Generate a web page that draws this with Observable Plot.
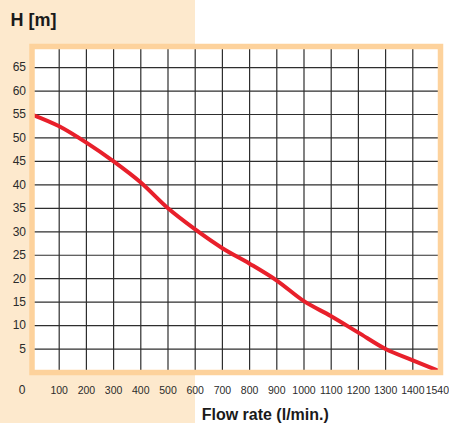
<!DOCTYPE html>
<html><head><meta charset="utf-8">
<script src="https://cdn.jsdelivr.net/npm/d3@7"></script>
<script src="https://cdn.jsdelivr.net/npm/@observablehq/plot@0.6"></script>
<style>
html,body{margin:0;padding:0;}
body{width:449px;height:423px;overflow:hidden;background:linear-gradient(to right,#fde9cd 0,#fde9cd 195px,#ffffff 195px);font-family:"Liberation Sans",Arial,sans-serif;}
#chart svg{display:block;}
</style></head><body><div id="chart"></div>
<script>
// Pump curve: flow rate (l/min) vs head H (m)
const flow = [0, 100, 200, 300, 400, 500, 600, 700, 800, 900, 1000, 1100, 1200, 1300, 1400, 1540];
const head = [55, 52.5, 49, 45, 40.5, 35, 30.5, 26.5, 23.2, 19.6, 15.2, 12, 8.5, 5, 2.6, 0.2];
const xGrid = [100, 200, 300, 400, 500, 600, 700, 800, 900, 1000, 1100, 1200, 1300, 1400];
const xTickValues = [100, 200, 300, 400, 500, 600, 700, 800, 900, 1000, 1100, 1200, 1300, 1400];
const xTickLabels = ["100", "200", "300", "400", "500", "600", "700", "800", "900", "1000", "1100", "1200", "1300", "1400"];
const xEndTick = [1540];
const yTicks = [5, 10, 15, 20, 25, 30, 35, 40, 45, 50, 55, 60, 65];
const originLabel = ["0"];
const title = ["H [m]"];
const xTitle = ["Flow rate (l/min.)"];

const data = flow.map((f, i) => ({flow: f, head: head[i]}));

const W = 449, H = 423;
const mL = 31.5, mR = 9, mT = 46, mB = 51;
const frameColor = "#fdd29c";
const gridColor = "#2e2e2e";
const textColor = "#2b2b2b";

const chart = Plot.plot({
  width: W,
  height: H,
  marginLeft: mL,
  marginRight: mR,
  marginTop: mT,
  marginBottom: mB,
  style: {background: "transparent", fontFamily: "'Liberation Sans', Arial, sans-serif", overflow: "visible"},
  x: {type: "linear", domain: [0, 1400, 1540], range: [mL, mL + 14 * 27.2, W - mR], axis: null},
  y: {domain: [0, 69.5], axis: null},
  marks: [
    Plot.frame({fill: "white", stroke: "none"}),
    Plot.ruleX(xGrid, {x: d => d, stroke: gridColor, strokeWidth: 1.2}),
    Plot.ruleY(yTicks, {y: d => d, stroke: gridColor, strokeWidth: 1.2}),
    Plot.line(data, {x: "flow", y: "head", curve: "monotone-x", stroke: "#e8202b", strokeWidth: 4, strokeLinecap: "butt", strokeLinejoin: "round"}),
    Plot.frame({stroke: frameColor, strokeWidth: 5.5, fill: "none"}),
    Plot.text(yTicks, {y: d => d, text: d => String(d), frameAnchor: "left", textAnchor: "end", dx: -6, fontSize: 12, fill: textColor}),
    Plot.text(xTickValues, {x: d => d, text: (d, i) => xTickLabels[i], frameAnchor: "bottom", lineAnchor: "bottom", dy: 21, fontSize: 10.5, fill: textColor}),
    Plot.text(xEndTick, {x: d => d, text: d => String(d), frameAnchor: "bottom", lineAnchor: "bottom", textAnchor: "end", dx: 8.5, dy: 21, fontSize: 10.5, fill: textColor}),
    Plot.text(originLabel, {x: () => 0, text: d => d, frameAnchor: "bottom", lineAnchor: "bottom", dx: -10, dy: 21, fontSize: 12, fill: textColor}),
    Plot.text(title, {text: d => d, frameAnchor: "top-left", textAnchor: "start", lineAnchor: "top", dx: -21.5, dy: -33, fontSize: 18, fontWeight: "bold", fill: "#1a1a1a"}),
    Plot.text(xTitle, {text: d => d, frameAnchor: "bottom", lineAnchor: "bottom", dx: 29, dy: 47, fontSize: 16, fontWeight: "bold", fill: "#1a1a1a"})
  ]
});
document.getElementById("chart").appendChild(chart);
</script>
</body></html>
